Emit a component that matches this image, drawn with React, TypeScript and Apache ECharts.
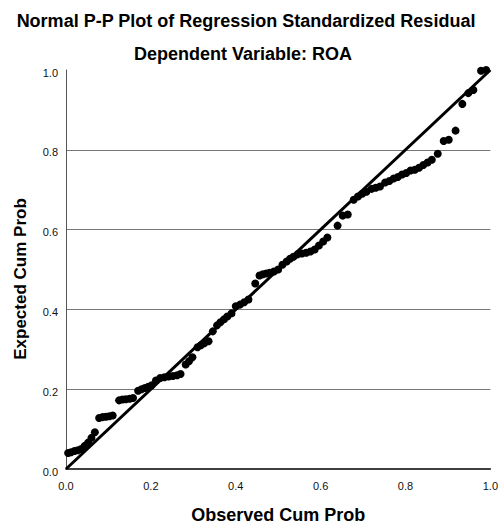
import React, { useEffect, useRef } from "react";
import * as echarts from "echarts";

const titleText = "Normal P-P Plot of Regression Standardized Residual";
const subtitleText = "Dependent Variable: ROA";
const xAxisName = "Observed Cum Prob";
const yAxisName = "Expected Cum Prob";

const observed: number[] = [
  0.005, 0.012, 0.02, 0.028, 0.036, 0.044, 0.052, 0.06, 0.068, 0.078,
  0.086, 0.094, 0.102, 0.11, 0.125, 0.133, 0.141, 0.15, 0.158, 0.17,
  0.178, 0.186, 0.194, 0.202, 0.212, 0.222, 0.232, 0.242, 0.252, 0.262,
  0.27, 0.282, 0.29, 0.298, 0.31, 0.318, 0.326, 0.336, 0.346, 0.356,
  0.364, 0.372, 0.38, 0.39, 0.4, 0.41, 0.42, 0.43, 0.446, 0.456,
  0.464, 0.472, 0.48, 0.49, 0.5, 0.51, 0.52, 0.528, 0.536, 0.546,
  0.556, 0.566, 0.576, 0.586, 0.596, 0.606, 0.616, 0.64, 0.652, 0.664,
  0.678, 0.688, 0.698, 0.708, 0.72, 0.73, 0.74, 0.752, 0.762, 0.772,
  0.782, 0.792, 0.802, 0.812, 0.822, 0.832, 0.842, 0.852, 0.862, 0.876,
  0.89, 0.902, 0.918, 0.934, 0.948, 0.96, 0.978, 0.99,
];

const expected: number[] = [
  0.04, 0.042, 0.045, 0.047, 0.05, 0.058, 0.066, 0.078, 0.092, 0.128,
  0.13, 0.131, 0.132, 0.134, 0.172, 0.174, 0.175, 0.176, 0.178, 0.196,
  0.2, 0.203, 0.206, 0.21, 0.222, 0.228, 0.23, 0.232, 0.233, 0.235,
  0.238, 0.262, 0.27, 0.28, 0.305, 0.31, 0.315, 0.32, 0.345, 0.36,
  0.368, 0.375, 0.382, 0.39, 0.408, 0.412, 0.418, 0.425, 0.465, 0.485,
  0.488, 0.49, 0.492, 0.495, 0.5, 0.512, 0.52, 0.527, 0.532, 0.538,
  0.54, 0.542, 0.545, 0.55, 0.56, 0.57, 0.58, 0.61, 0.635, 0.638,
  0.675, 0.683, 0.69, 0.695, 0.702, 0.705, 0.708, 0.718, 0.722, 0.728,
  0.732, 0.738, 0.742, 0.748, 0.75, 0.755, 0.762, 0.768, 0.775, 0.79,
  0.822, 0.825, 0.848, 0.915, 0.942, 0.95, 0.998, 1.0,
];

const refLine: number[][] = [
  [0, 0],
  [1, 1],
];

const FONT = "'Liberation Sans', Arial, sans-serif";

export default function App() {
  const ref = useRef<HTMLDivElement>(null);
  useEffect(() => {
    if (!ref.current) return;
    const chart = echarts.init(ref.current, undefined, { renderer: "svg" });
    const points = observed.map((x, i) => [x, expected[i]]);
    chart.setOption({
      animation: false,
      backgroundColor: "#ffffff",
      textStyle: { fontFamily: FONT },
      graphic: [
        {
          type: "text",
          x: 246,
          y: 21,
          style: {
            text: titleText,
            font: `bold 18px ${FONT}`,
            fill: "#000",
            align: "center",
            verticalAlign: "middle",
          },
        },
        {
          type: "text",
          x: 243,
          y: 54,
          style: {
            text: subtitleText,
            font: `bold 18px ${FONT}`,
            fill: "#000",
            align: "center",
            verticalAlign: "middle",
          },
        },
        {
          type: "text",
          x: 20,
          y: 279,
          rotation: Math.PI / 2,
          style: {
            text: yAxisName,
            font: `bold 17px ${FONT}`,
            fill: "#000",
            align: "center",
            verticalAlign: "middle",
          },
        },
      ],
      grid: { left: 66, right: 8, top: 70, bottom: 55 },
      xAxis: {
        type: "value",
        min: 0,
        max: 1,
        interval: 0.2,
        name: xAxisName,
        nameLocation: "middle",
        nameGap: 37,
        nameTextStyle: { fontWeight: "bold", fontSize: 18, color: "#000", fontFamily: FONT },
        axisLine: { show: true, lineStyle: { color: "#000", width: 1.5 } },
        axisTick: { show: false },
        splitLine: { show: false },
        axisLabel: {
          color: "#111",
          fontSize: 11,
          margin: 11,
          fontFamily: FONT,
          formatter: (v: number) => v.toFixed(1),
        },
      },
      yAxis: {
        type: "value",
        min: 0,
        max: 1,
        interval: 0.2,
        axisLine: { show: true, lineStyle: { color: "#555", width: 1 } },
        axisTick: { show: false },
        splitLine: {
          show: true,
          lineStyle: {
            color: ["rgba(0,0,0,0)", "#777", "#777", "#777", "#777", "rgba(0,0,0,0)"],
            width: 1,
          },
        },
        axisLabel: {
          color: "#111",
          fontSize: 11,
          margin: 8,
          verticalAlign: "top",
          lineHeight: 5,
          fontFamily: FONT,
          formatter: (v: number) => v.toFixed(1),
          showMaxLabel: true,
        },
      },
      series: [
        {
          type: "line",
          data: refLine,
          symbol: "none",
          lineStyle: { color: "#000", width: 3 },
          z: 3,
        },
        {
          type: "scatter",
          data: points,
          symbol: "circle",
          symbolSize: 8,
          itemStyle: { color: "#000", opacity: 1 },
          z: 4,
        },
      ],
    });
    return () => chart.dispose();
  }, []);
  return <div ref={ref} style={{ width: 501, height: 529, position: "absolute", left: 0, top: 0 }} />;
}
